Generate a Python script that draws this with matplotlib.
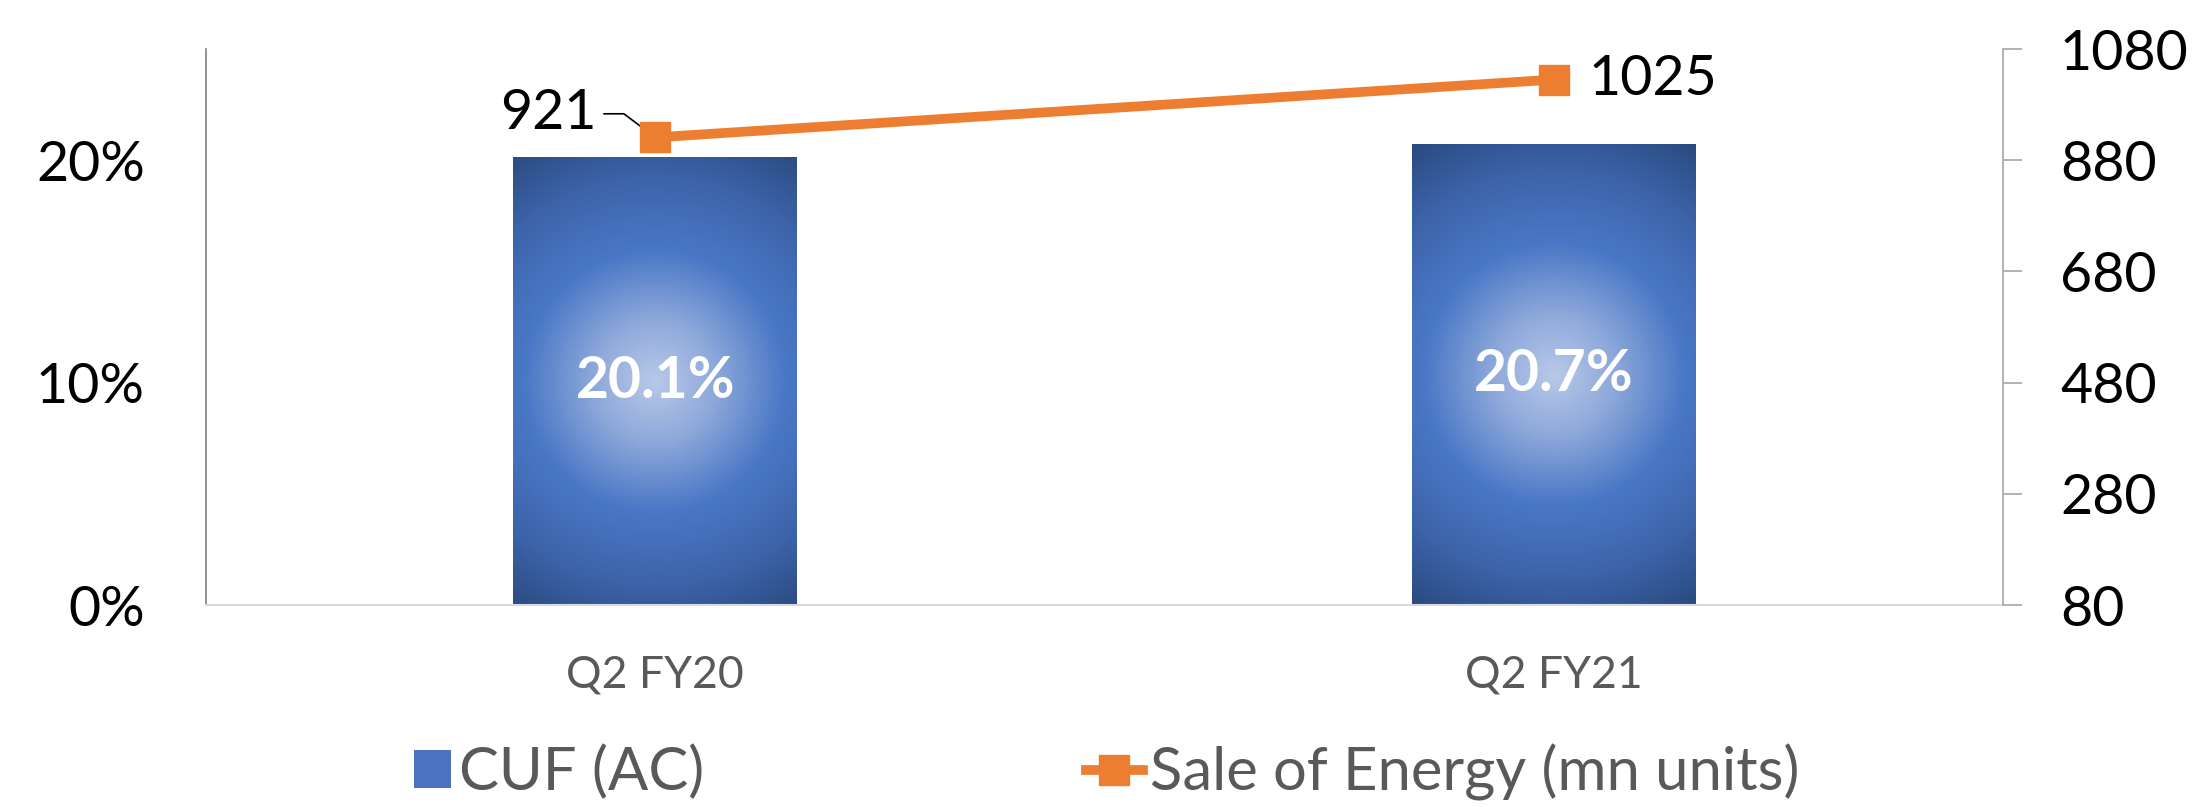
import matplotlib
matplotlib.use('Agg')
import matplotlib.pyplot as plt
import numpy as np
from matplotlib.colors import LinearSegmentedColormap
from matplotlib.patches import Patch, Rectangle
from matplotlib.lines import Line2D
from matplotlib.legend_handler import HandlerPatch

plt.rcParams['font.family'] = ['Lato', 'DejaVu Sans']

categories = ['Q2 FY20', 'Q2 FY21']
cuf = [20.1, 20.7]            # CUF (AC), percent
sales = [921, 1025]           # Sale of Energy (mn units)
left_ticks = [0, 10, 20]
left_labels = ['0%', '10%', '20%']
right_ticks = [80, 280, 480, 680, 880, 1080]

W, H = 2203, 807
fig = plt.figure(figsize=(W / 100, H / 100), dpi=100)
ax = fig.add_axes([206 / W, 1 - 605 / H, (2003 - 206) / W, (605 - 49) / H])
ax2 = ax.twinx()

x = np.arange(len(categories))
bar_w = 0.316
ax.set_xlim(-0.5, 1.5)
ax.set_ylim(0, 25)
ax2.set_ylim(80, 1080)

# bars with a radial gradient fill
grad = LinearSegmentedColormap.from_list('bluegrad', [
    (0.0, '#b8c9e8'), (0.22, '#8fa9db'), (0.48, '#4a78c6'),
    (0.75, '#3d64aa'), (1.0, '#2a4a80')])
bars = ax.bar(x, cuf, width=bar_w, color='none', zorder=1)
for b in bars:
    x0, y0 = b.get_x(), b.get_y()
    x1, y1 = x0 + b.get_width(), y0 + b.get_height()
    (px0, py0), (px1, py1) = ax.transData.transform([(x0, y0), (x1, y1)])
    nx, ny = int(abs(px1 - px0)), int(abs(py1 - py0))
    gx = np.linspace(-nx / 2, nx / 2, nx)
    gy = np.linspace(-ny / 2, ny / 2, ny)
    XX, YY = np.meshgrid(gx, gy)
    d = np.sqrt(XX ** 2 + YY ** 2) / 270.0
    ax.imshow(d, cmap=grad, vmin=0, vmax=1, extent=[x0, x1, y0, y1],
              origin='lower', aspect='auto', zorder=1, interpolation='bilinear')
    ax.text(b.get_x() + b.get_width() / 2, b.get_height() / 2,
            f'{b.get_height():.1f}%', color='white', fontsize=41,
            fontweight='bold', ha='center', va='center', zorder=3)
ax.set_xlim(-0.5, 1.5)
ax.set_ylim(0, 25)

# sales line
ax2.plot(x, sales, color='#ed7d31', lw=7, marker='s', ms=22, zorder=4)
ax2.annotate(str(sales[0]), xy=(x[0], sales[0]), xytext=(-42, 17),
             textcoords='offset points', ha='right', va='center', fontsize=40,
             arrowprops=dict(arrowstyle='-', color='black', lw=1.2,
                             shrinkA=3, shrinkB=0,
                             connectionstyle='angle,angleA=0,angleB=-37,rad=0'))
ax2.annotate(str(sales[1]), xy=(x[1], sales[1]), xytext=(25, 0),
             textcoords='offset points', ha='left', va='center', fontsize=40)

# axes styling
ax.set_xticks(x)
ax.set_xticklabels(categories, fontsize=32, color='#595959')
ax.tick_params(axis='x', length=0, pad=36)
ax.set_yticks(left_ticks)
ax.set_yticklabels(left_labels, fontsize=40)
ax.tick_params(axis='y', length=0, pad=44)
ax2.set_yticks(right_ticks)
ax2.set_yticklabels([str(t) for t in right_ticks], fontsize=40)
ax2.tick_params(axis='y', length=14, width=1.2, color='#a6a6a6', pad=27)

for a in (ax, ax2):
    for s in a.spines.values():
        s.set_visible(False)
ax.spines['left'].set_visible(True)
ax.spines['left'].set_color('#7f7f7f')
ax.spines['left'].set_linewidth(1.2)
ax.spines['bottom'].set_visible(True)
ax.spines['bottom'].set_color('#d9d9d9')
ax.spines['bottom'].set_linewidth(1.5)
ax2.spines['right'].set_visible(True)
ax2.spines['right'].set_color('#a6a6a6')
ax2.spines['right'].set_linewidth(1.2)


def square_patch(legend, orig_handle, xdescent, ydescent, width, height, fontsize):
    return Rectangle((-xdescent + width - height, -ydescent), height, height)


handles = [Patch(facecolor='#4a72c0', edgecolor='none'),
           Line2D([], [], color='#ed7d31', lw=7, marker='s', ms=22)]
fig.legend(handles, ['CUF (AC)', 'Sale of Energy (mn units)'], loc='center',
           bbox_to_anchor=(0.498, 1 - 772 / H), ncol=2, frameon=False,
           fontsize=43, labelcolor='#595959', columnspacing=6.4,
           handlelength=0.95, handletextpad=0.12, handleheight=0.6,
           handler_map={Patch: HandlerPatch(patch_func=square_patch)})

fig.savefig('out.png', dpi=100)
